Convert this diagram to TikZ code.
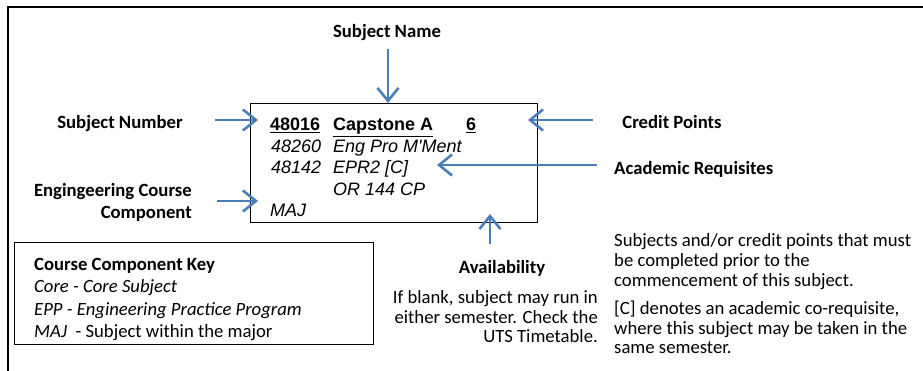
\documentclass[tikz,border=0pt]{standalone}
\usepackage{fontspec}
\setmainfont{Carlito}
\newfontfamily\arialf{Liberation Sans}
\usetikzlibrary{arrows.meta}
\definecolor{arrblue}{HTML}{4A7EBB}
\tikzset{
  lbl/.style={font=\fontsize{18.7}{20}\selectfont\bfseries, inner sep=0pt},
  txt/.style={font=\fontsize{18.7}{20}\selectfont, inner sep=0pt},
  boxt/.style={font=\arialf\fontsize{18}{21.5}\selectfont\itshape, inner sep=0pt},
  boxb/.style={font=\arialf\fontsize{18}{21.5}\selectfont\bfseries, inner sep=0pt},
  conn/.style={draw=arrblue, line width=2.6pt, -{Straight Barb[length=13pt,width=21pt]}},
}
\begin{document}
\begin{tikzpicture}[x=1pt,y=-1pt]
\useasboundingbox (0,0) rectangle (923,371);
% outer frame
\draw[line width=1.8pt] (8,371) -- (8,7) -- (923,7);
% main box
\node[draw, line width=1.2pt, minimum width=287pt, minimum height=119pt, anchor=north west, inner sep=0pt] (box) at (250,103) {};
% box contents
\node[boxb, anchor=base west] (n1) at (270,131) {\underline{48016}};
\node[boxb, anchor=base west] (c1) at (333,131) {\underline{Capstone A}};
\node[boxb, anchor=base west] (p1) at (466,131) {\underline{6}};
\node[boxt, anchor=base west] (n2) at (271,152.5) {48260};
\node[boxt, anchor=base west] (c2) at (333,152.5) {Eng Pro M'Ment};
\node[boxt, anchor=base west] (n3) at (271,174) {48142};
\node[boxt, anchor=base west] (c3) at (333,174) {EPR2 [C]};
\node[boxt, anchor=base west] (c4) at (333,195.5) {OR 144 CP};
\node[boxt, anchor=base west] (n5) at (270,217) {MAJ};
% labels
\node[lbl, anchor=base] (lname) at (387,38) {Subject Name};
\node[lbl, anchor=base] (lnum) at (120,129) {Subject Number};
\node[lbl, anchor=base] (lcp) at (672,129) {Credit Points};
\node[lbl, anchor=base west] (lreq) at (614,175) {Academic Requisites};
\node[lbl, anchor=base east] (leng1) at (192,197) {Engingeering Course};
\node[lbl, anchor=base east] (leng2) at (192,219) {Component};
\node[lbl, anchor=base] (lav) at (502,273) {Availability};
% availability description
\node[txt, anchor=base east] (av1) at (598,303) {If blank, subject may run in};
\node[txt, anchor=base east] (av2) at (598,323) {either semester. Check the};
\node[txt, anchor=base east] (av3) at (598,342.5) {UTS Timetable.};
% requisites description
\node[txt, anchor=base west] (r1) at (614,247) {Subjects and/or credit points that must};
\node[txt, anchor=base west] (r2) at (614,267) {be completed prior to the};
\node[txt, anchor=base west] (r3) at (614,287) {commencement of this subject.};
\node[txt, anchor=base west] (r4) at (614,314) {[C] denotes an academic co-requisite,};
\node[txt, anchor=base west] (r5) at (614,334) {where this subject may be taken in the};
\node[txt, anchor=base west] (r6) at (614,353.5) {same semester.};
% key box
\node[draw, line width=1.2pt, minimum width=359pt, minimum height=102pt, anchor=north west, inner sep=0pt] (key) at (14,242) {};
\node[lbl, anchor=base west] (k1) at (34,270) {Course Component Key};
\node[txt, anchor=base west] (k2) at (34,292.5) {\itshape Core - Core Subject};
\node[txt, anchor=base west] (k3) at (34,315) {\itshape EPP - Engineering Practice Program};
\node[txt, anchor=base west] (k4) at (34,337.5) {\textit{MAJ}\ \ - Subject within the major};
% connector endpoints
\coordinate (aname) at (388,49);
\coordinate (anum) at (215,120);
\coordinate (anumt) at (258,120);
\coordinate (acp) at (593,120);
\coordinate (acpt) at (528,120);
\coordinate (areq) at (597,165);
\coordinate (areqt) at (437,165);
\coordinate (aeng) at (217,201);
\coordinate (aengt) at (258,201);
\coordinate (aav) at (490,244);
\coordinate (aavt) at (490,214);
\draw[conn] (aname) -- (box.north -| aname);
\draw[conn] (anum) -- (anumt);
\draw[conn] (acp) -- (acpt);
\draw[conn] (areq) -- (areqt);
\draw[conn] (aeng) -- (aengt);
\draw[conn] (aav) -- (aavt);
\end{tikzpicture}
\end{document}
